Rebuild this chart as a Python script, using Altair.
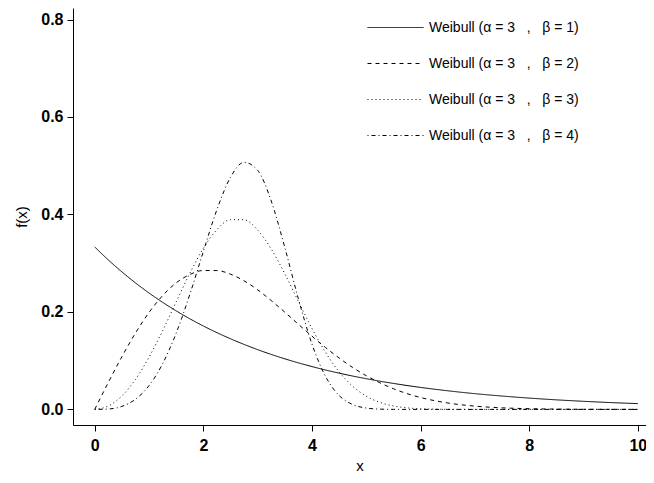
import altair as alt
import pandas as pd

xs = [0, 0.25, 0.5, 0.75, 1, 1.25, 1.5, 1.75, 2, 2.25, 2.5, 2.75, 3, 3.25, 3.5, 3.75,
      4, 4.25, 4.5, 4.75, 5, 5.25, 5.5, 5.75, 6, 6.5, 7, 7.5, 8, 8.5, 9, 9.5, 10]

f_b1 = [0.3333, 0.3067, 0.2822, 0.2596, 0.2388, 0.2197, 0.2022, 0.1860, 0.1711, 0.1575,
        0.1449, 0.1333, 0.1226, 0.1128, 0.1038, 0.0955, 0.0879, 0.0808, 0.0744, 0.0684,
        0.0630, 0.0579, 0.0533, 0.0490, 0.0451, 0.0382, 0.0323, 0.0274, 0.0232, 0.0196,
        0.0166, 0.0140, 0.0119]
f_b2 = [0, 0.0552, 0.1081, 0.1566, 0.1989, 0.2335, 0.2596, 0.2767, 0.2850, 0.2849,
        0.2774, 0.2638, 0.2453, 0.2233, 0.1994, 0.1747, 0.1502, 0.1269, 0.1054, 0.0860,
        0.0691, 0.0546, 0.0424, 0.0324, 0.0244, 0.0132, 0.0067, 0.0032, 0.0015, 0.0006,
        0.0002, 0.0001, 0.0000]
f_b3 = [0, 0.0069, 0.0276, 0.0615, 0.1071, 0.1615, 0.2206, 0.2790, 0.3305, 0.3689,
        0.3893, 0.3890, 0.3679, 0.3291, 0.2781, 0.2216, 0.1661, 0.1169, 0.0770, 0.0474,
        0.0271, 0.0144, 0.0071, 0.0032, 0.0013, 0.0002, 0, 0, 0, 0, 0, 0, 0]
f_b4 = [0, 0.0008, 0.0062, 0.0208, 0.0488, 0.0936, 0.1566, 0.2357, 0.3242, 0.4099,
        0.4764, 0.5069, 0.4905, 0.4276, 0.3321, 0.2267, 0.1340, 0.0675, 0.0285, 0.0099,
        0.0028, 0.0006, 0.0001, 0, 0, 0, 0, 0, 0, 0, 0, 0, 0]

NB = "\u00a0"
labels = [f"Weibull (α = 3{NB}{NB} ,{NB}{NB} β = {b})" for b in (1, 2, 3, 4)]
dashes = [[1, 0], [4, 4], [1, 3], [1, 3, 4, 3]]

x_ticks = [0, 2, 4, 6, 8, 10]
y_ticks = [0, 0.2, 0.4, 0.6, 0.8]

rows = []
for lab, ys in zip(labels, [f_b1, f_b2, f_b3, f_b4]):
    for x, y in zip(xs, ys):
        rows.append({"x": x, "f": y, "series": lab})
df = pd.DataFrame(rows)

FONT = "Liberation Sans"

chart = alt.Chart(df).mark_line(
    color="black", strokeWidth=1, clip=True, interpolate="monotone"
).encode(
    x=alt.X("x:Q",
            scale=alt.Scale(domain=[-0.4, 10.15], nice=False, zero=False),
            axis=alt.Axis(values=x_ticks, title="x", format="d",
                          labelPadding=6, titlePadding=5)),
    y=alt.Y("f:Q",
            scale=alt.Scale(domain=[-0.032, 0.8236], nice=False, zero=False),
            axis=alt.Axis(values=y_ticks, title="f(x)", format=".1f",
                          labelPadding=4, titlePadding=11)),
    strokeDash=alt.StrokeDash(
        "series:N",
        scale=alt.Scale(domain=labels, range=dashes),
        legend=alt.Legend(
            title=None, orient="none", legendX=294, legendY=-9,
            symbolType="stroke", symbolSize=3136, symbolStrokeWidth=1,
            symbolStrokeColor="black", labelFont=FONT, labelFontSize=14,
            labelColor="black", labelOffset=5, rowPadding=-3,
        ),
    ),
    detail="series:N",
).properties(
    width=573, height=417,
    autosize=alt.AutoSizeParams(type="none"),
    padding={"left": 65, "top": 0, "right": 0, "bottom": 50},
).configure_view(stroke=None).configure_axis(
    grid=False, domainColor="black", tickColor="black", tickSize=6,
    labelFont=FONT, labelFontSize=16, labelFontWeight="bold", labelColor="black",
    titleFont=FONT, titleFontSize=15, titleFontWeight="normal", titleColor="black",
)

chart.save("out.html", embed_options={"renderer": "svg", "actions": False})
